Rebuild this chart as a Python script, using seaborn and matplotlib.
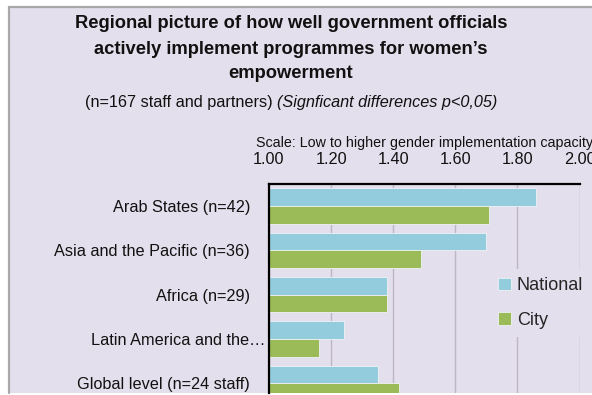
import matplotlib
matplotlib.use("Agg")
import matplotlib.pyplot as plt
import matplotlib.transforms as mtransforms
import seaborn as sns
import pandas as pd
from matplotlib.lines import Line2D
from matplotlib.patches import Rectangle

# Mean implementation-capacity scores by region (1 = low, 2 = higher)
regions = [
    "Arab States (n=42)",
    "Asia and the Pacific (n=36)",
    "Africa (n=29)",
    "Latin America and the\u2026",
    "Global level (n=24 staff)",
]
national = [1.86, 1.70, 1.38, 1.24, 1.35]
city = [1.71, 1.49, 1.38, 1.16, 1.42]
series = ["National", "City"]
tick_values = [1.00, 1.20, 1.40, 1.60, 1.80, 2.00]

df = pd.DataFrame({
    "Region": regions * 2,
    "Series": [series[0]] * len(regions) + [series[1]] * len(regions),
    "Score": national + city,
})

BG = "#E4DFEC"
BLUE = "#93CDDD"
GREEN = "#9BBB59"
GRID = "#BDB6C4"
BORDER = "#A9A9A9"

sns.set_theme(style="white")
plt.rcParams["font.family"] = ["Liberation Sans", "DejaVu Sans"]

W, H = 592, 395
fig = plt.figure(figsize=(W / 100, H / 100), dpi=100, facecolor="white")


def fx(px):
    return px / W


def fy(py):
    return 1 - py / H


# panel background with grey frame along top and left
fig.patches.append(Rectangle((fx(8.5), fy(393)), 1, fy(6.5) - fy(393),
                             transform=fig.transFigure, facecolor=BG,
                             edgecolor="none", zorder=-5))
fig.add_artist(Line2D([fx(8.5), 1.0], [fy(6.5), fy(6.5)], color=BORDER, lw=1.6))
fig.add_artist(Line2D([fx(8.5), fx(8.5)], [fy(6.5), fy(393)], color=BORDER, lw=1.6))

ax = fig.add_axes([fx(269), fy(393), fx(579.5) - fx(269), fy(184) - fy(393)])
ax.set_facecolor(BG)

sns.barplot(data=df, y="Region", x="Score", hue="Series", orient="h",
            palette=[BLUE, GREEN], saturation=1, width=0.8, errorbar=None,
            edgecolor="#EEF2F4", linewidth=0.6, ax=ax, zorder=2)

ax.set_xlim(1.0, 2.0)
ax.set_ylim(4.218, -0.5)
ax.set_xticks(tick_values)
ax.set_xticklabels([f"{v:.2f}" for v in tick_values])
ax.xaxis.tick_top()
ax.xaxis.set_label_position("top")
ax.set_xlabel("Scale: Low to higher gender implementation capacity",
              fontsize=10.3, color="#111111", labelpad=4)
ax.set_ylabel("")
ax.tick_params(axis="both", length=0, colors="#111111")
ax.tick_params(axis="x", labelsize=11.7, pad=12)
ax.tick_params(axis="y", labelsize=11.7, pad=13.7)

# the truncated category label sits closer to the axis
for lbl in ax.get_yticklabels():
    if lbl.get_text().endswith("\u2026"):
        lbl.set_transform(lbl.get_transform() + mtransforms.ScaledTranslation(
            16 / 100, 0, fig.dpi_scale_trans))

ax.grid(axis="x", color=GRID, lw=1.0)
ax.grid(axis="y", visible=False)
ax.set_axisbelow(True)
for side in ("right", "bottom"):
    ax.spines[side].set_visible(False)
for side in ("top", "left"):
    ax.spines[side].set_color("black")
    ax.spines[side].set_linewidth(1.6)

handles, labels = ax.get_legend_handles_labels()
ax.legend(handles, labels, loc="center left",
          bbox_to_anchor=(fx(490), fy(303)), bbox_transform=fig.transFigure,
          frameon=True, fancybox=False, facecolor=BG, edgecolor="none",
          framealpha=1, fontsize=13, handlelength=0.7, handleheight=0.7,
          handletextpad=0.33, labelspacing=0.95, borderpad=0.45,
          borderaxespad=0)

# title block
title_lines = [
    "Regional picture of how well government officials",
    "actively implement programmes for women\u2019s",
    "empowerment",
]
for line, ypx in zip(title_lines, [24, 49, 74]):
    fig.text(fx(291), fy(ypx), line, ha="center", va="center",
             fontsize=13.2, fontweight="bold", color="#111111")
fig.text(fx(273), fy(103), "(n=167 staff and partners)", ha="right",
         va="center", fontsize=11.7, color="#111111")
fig.text(fx(277), fy(103), "(Signficant differences p<0,05)", ha="left",
         va="center", fontsize=11.7, fontstyle="italic", color="#111111")

fig.savefig("out.png", dpi=100, facecolor="white")
